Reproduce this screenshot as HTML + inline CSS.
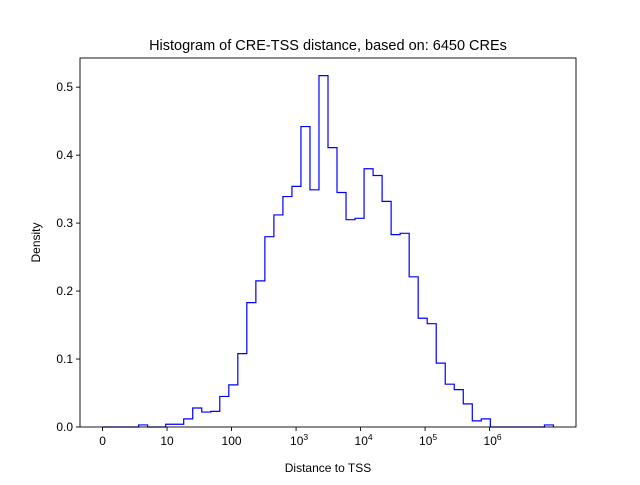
<!DOCTYPE html>
<html><head><meta charset="utf-8"><style>
body{margin:0;background:#fff}
svg{font-family:"Liberation Sans","DejaVu Sans",sans-serif}
</style></head><body>
<svg id="chart" width="640" height="480">
<rect width="640" height="480" fill="#fff"/>
<text x="328" y="50" font-size="14.5" text-anchor="middle">Histogram of CRE-TSS distance, based on: 6450 CREs</text>
<g id="plot"></g>
<text x="328" y="472" font-size="12" text-anchor="middle">Distance to TSS</text>
<text transform="translate(40,242.5) rotate(-90)" font-size="12" text-anchor="middle">Density</text>
</svg>
<script>
const densities=[0,0,0,0,0.003,0,0,0.004,0.004,0.012,0.028,0.022,0.023,0.045,0.062,0.108,0.183,0.215,0.280,0.312,0.339,0.354,0.442,0.349,0.517,0.411,0.345,0.305,0.307,0.380,0.370,0.332,0.283,0.285,0.221,0.160,0.152,0.094,0.063,0.055,0.034,0.009,0.012,0,0,0,0,0,0,0.003];
const binStart=0, binEnd=6.99;
const xTickVals=[0,1,2,3,4,5,6];
const xTickBase=["0","10","100","10","10","10","10"];
const xTickExp=["","","","3","4","5","6"];
const yTickVals=[0,0.1,0.2,0.3,0.4,0.5];
const yTickLabels=["0.0","0.1","0.2","0.3","0.4","0.5"];

const L=80,R=576,T=58,B=427;
const xmin=-0.3495,xmax=7.3395,ymin=0,ymax=0.5429;
const xs=v=>L+(v-xmin)/(xmax-xmin)*(R-L);
const ys=v=>B-(v-ymin)/(ymax-ymin)*(B-T);
const NS="http://www.w3.org/2000/svg";
const g=document.getElementById('plot');
function mk(t,a){const e=document.createElementNS(NS,t);for(const k in a)e.setAttribute(k,a[k]);g.appendChild(e);return e;}

const n=densities.length,w=(binEnd-binStart)/n;
let d=`M${xs(binStart)},${ys(0)}`;
densities.forEach((v,i)=>{d+=` L${xs(binStart+i*w)},${ys(v)} L${xs(binStart+(i+1)*w)},${ys(v)}`;});
d+=` L${xs(binEnd)},${ys(0)}`;
const p=mk('path',{d:d,fill:'none',stroke:'#0000ff','stroke-width':1.2});



const fr=mk('rect',{x:L,y:T,width:R-L,height:B-T,fill:'none',stroke:'#000','stroke-width':0.9});



xTickVals.forEach((v,i)=>{
  const x=xs(v);
  const tk=mk('line',{x1:x,x2:x,y1:B,y2:B+4,stroke:'#000','stroke-width':0.9});
  
  
  const t=mk('text',{x:x,y:B+18,'font-size':12,'text-anchor':'middle'});
  
  
  t.textContent=xTickBase[i];
  if(xTickExp[i]){const s=document.createElementNS(NS,'tspan');s.setAttribute('dy','-5');s.setAttribute('font-size','8.5');s.textContent=xTickExp[i];t.appendChild(s);t.setAttribute('x',x+3);}
});
yTickVals.forEach((v,i)=>{
  const y=ys(v);
  const tk=mk('line',{x1:L-4,x2:L,y1:y,y2:y,stroke:'#000','stroke-width':0.9});
  
  
  const t=mk('text',{x:L-7,y:y+4,'font-size':12,'text-anchor':'end'});
  
  
  t.textContent=yTickLabels[i];
});
</script>
</body></html>
